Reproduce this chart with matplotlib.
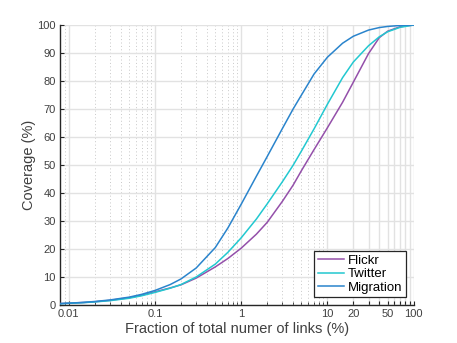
import matplotlib
matplotlib.use("Agg")
import matplotlib.pyplot as plt
from matplotlib.ticker import FixedLocator, NullFormatter, FixedFormatter

plt.rcParams['font.family'] = ['Liberation Sans', 'DejaVu Sans']

# Data
frac_x = [0.0079, 0.01, 0.015, 0.02, 0.03, 0.05, 0.07, 0.1, 0.15, 0.2, 0.3, 0.5, 0.7,
          1.0, 1.5, 2.0, 3.0, 4.0, 5.0, 7.0, 10, 15, 20, 30, 40, 50, 70, 100]

flickr_y = [0.5, 0.65, 0.9, 1.15, 1.65, 2.6, 3.5, 4.7, 6.1, 7.2, 9.6, 13.6, 16.6,
            20.3, 25.3, 29.5, 37.0, 42.8, 48.0, 55.5, 63.3, 72.4, 79.6, 89.8, 95.5, 97.8, 99.4, 100]

twitter_y = [0.45, 0.6, 0.85, 1.1, 1.55, 2.4, 3.3, 4.5, 6.0, 7.3, 10.0, 14.6, 18.8,
             24.0, 30.7, 36.1, 44.0, 49.9, 55.0, 62.9, 71.7, 81.2, 86.8, 92.6, 95.8, 97.6, 99.2, 100]

migration_y = [0.5, 0.65, 0.95, 1.25, 1.8, 2.8, 3.8, 5.2, 7.3, 9.3, 13.2, 20.5, 27.5,
               36.0, 46.0, 53.0, 63.0, 70.0, 75.0, 82.5, 88.5, 93.5, 96.0, 98.2, 99.1, 99.5, 99.85, 100]

series_labels = ['Flickr', 'Twitter', 'Migration']
series_colors = ['#9450aa', '#22c8d0', '#2a84cc']

x_major = [0.01, 0.1, 1, 10, 20, 30, 40, 50, 60, 70, 80, 90, 100]
x_major_labels = ['0.01', '0.1', '1', '10', '20', '', '', '50', '', '', '', '', '100']
y_ticks = list(range(0, 101, 10))

fig = plt.figure(figsize=(4.57, 3.43), dpi=100)
ax = fig.add_axes([0.1313, 0.1108, 0.905 - 0.1313, 0.927 - 0.1108])

for ys, lab, col in zip([flickr_y, twitter_y, migration_y], series_labels, series_colors):
    ax.plot(frac_x, ys, color=col, lw=1.1, label=lab, zorder=3)

ax.set_xscale('log')
ax.set_xlim(0.0079, 100)
ax.set_ylim(0, 100)

minor = []
for d in [0.001, 0.01, 0.1, 1]:
    for m in range(2, 10):
        v = m * d
        if 0.0079 <= v <= 10:
            minor.append(v)
ax.xaxis.set_major_locator(FixedLocator(x_major))
ax.xaxis.set_major_formatter(FixedFormatter(x_major_labels))
ax.xaxis.set_minor_locator(FixedLocator(minor))
ax.xaxis.set_minor_formatter(NullFormatter())
ax.set_yticks(y_ticks)

ax.grid(True, which='major', color='#e2e2e2', lw=1.0, ls='-', zorder=0)
ax.grid(True, which='minor', axis='x', color='#c8c8c8', lw=0.7, ls=(0, (1, 2.5)), zorder=0)
ax.set_axisbelow(True)

for s in ['top', 'right']:
    ax.spines[s].set_visible(False)
for s in ['left', 'bottom']:
    ax.spines[s].set_color('#262626')
    ax.spines[s].set_linewidth(1.0)

ax.tick_params(which='major', direction='in', length=3, width=0.8, colors='#262626',
               labelsize=8, labelcolor='#404040', pad=3)
ax.tick_params(which='minor', direction='in', length=2, width=0.6, colors='#262626')

ax.set_xlabel('Fraction of total numer of links (%)', fontsize=10.5, color='#404040', labelpad=2)
ax.set_ylabel('Coverage (%)', fontsize=10.5, color='#404040', labelpad=1)

leg = ax.legend(loc='lower right', fontsize=9.5, frameon=True, fancybox=False,
                edgecolor='#262626', framealpha=1, handlelength=2.0, handletextpad=0.3,
                borderpad=0.25, labelspacing=0.1, borderaxespad=0.6)
leg.get_frame().set_linewidth(0.9)

fig.savefig('out.png', dpi=100)
